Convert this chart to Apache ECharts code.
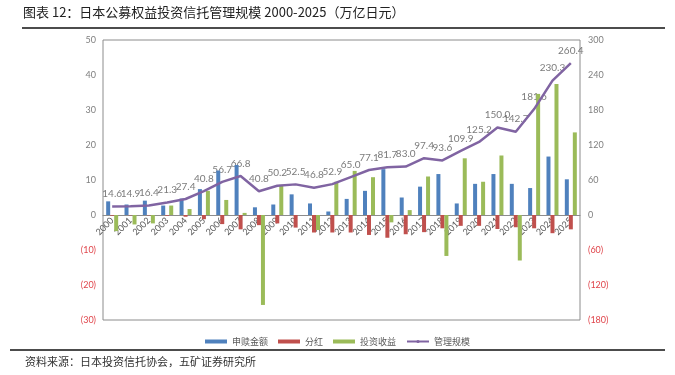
<!DOCTYPE html>
<html>
<head>
<meta charset="utf-8">
<script src="https://cdn.jsdelivr.net/npm/echarts@6/dist/echarts.min.js"></script>
<style>
  html, body { margin: 0; padding: 0; background: #fff; }
  #main { width: 675px; height: 375px; }
</style>
</head>
<body>
<div id="main"></div>
<script>
// 年份
var years = ['2000','2001','2002','2003','2004','2005','2006','2007','2008','2009','2010','2011','2012',
             '2013','2014','2015','2016','2017','2018','2019','2020','2021','2022','2023','2024','2025'];
// 申赎金额（左轴，万亿日元）
var flows = [3.9, 3.0, 4.1, 2.7, 4.7, 7.4, 12.7, 14.3, 2.2, 3.0, 5.9, 3.3, 1.0,
             4.6, 6.9, 13.1, 5.0, 8.1, 11.7, 3.3, 8.9, 11.7, 8.9, 7.7, 16.7, 10.2];
// 分红
var dividends = [-0.2, -0.1, -0.1, -0.2, -0.5, -1.2, -2.6, -4.1, -2.9, -2.4, -3.6, -5.0, -5.0,
                 -5.0, -5.7, -6.5, -5.5, -4.9, -3.8, -3.1, -3.1, -4.0, -3.5, -3.8, -5.2, -4.1];
// 投资收益
var returns = [-4.6, -2.7, -2.4, 2.7, 1.7, 6.9, 4.3, 0.6, -25.7, 8.6, 0, -4.3, 9.5,
               12.6, 10.8, -2.1, 1.4, 11.0, -11.7, 16.2, 9.5, 17.0, -13.0, 34.6, 37.4, 23.6];
// 管理规模（右轴）
var aum = [14.6, 14.9, 16.4, 21.3, 27.4, 40.8, 56.7, 66.8, 40.8, 50.2, 52.5, 46.8, 52.9,
           65.0, 77.1, 81.7, 83.0, 97.4, 93.6, 109.9, 125.2, 150.0, 142.7, 181.6, 230.3, 260.4];

// 坐标轴刻度
var leftAxis = { min: -30, max: 50, interval: 10 };
var rightAxis = { min: -180, max: 300, interval: 60 };

var numFont = 'Lato, "Liberation Sans", sans-serif';
var narrowFont = '"Liberation Sans Narrow", Lato, sans-serif';
var cjkFont = '"Noto Sans CJK SC", sans-serif';

function negFormat(v) {
  return v < 0 ? '{neg|(' + (-v) + ')}' : '{pos|' + v + '}';
}
var axisRich = {
  neg: { color: '#e0464c', fontSize: 9, fontFamily: numFont },
  pos: { color: '#7f7f7f', fontSize: 9, fontFamily: numFont }
};

var gridTop = 40, gridBottom = 55, plotH = 375 - gridTop - gridBottom;
// 横轴放在 0 处
var zeroOffset = -plotH * (0 - leftAxis.min) / (leftAxis.max - leftAxis.min);

var myChart = echarts.init(document.getElementById('main'));
myChart.setOption({
  animation: false,
  color: ['#4f81bd', '#c0504d', '#9bbb59', '#8064a2'],
  grid: {
    left: 103, right: 95, top: gridTop, bottom: gridBottom,
    show: true, borderColor: '#8c8c8c', borderWidth: 1
  },
  legend: {
    top: 332, left: 'center',
    itemWidth: 22, itemHeight: 4, itemGap: 10,
    textStyle: { fontSize: 9, color: '#595959', fontFamily: cjkFont },
    data: [
      { name: '申赎金额', icon: 'rect' },
      { name: '分红', icon: 'rect' },
      { name: '投资收益', icon: 'rect' },
      { name: '管理规模' }
    ]
  },
  xAxis: {
    type: 'category',
    data: years,
    position: 'bottom',
    offset: zeroOffset,
    axisLine: { onZero: false, lineStyle: { color: '#8c8c8c' } },
    axisTick: { show: false },
    axisLabel: { rotate: 45, interval: 0, fontSize: 9, color: '#595959', margin: 4, fontFamily: numFont }
  },
  yAxis: [
    {
      type: 'value', min: leftAxis.min, max: leftAxis.max, interval: leftAxis.interval,
      splitLine: { show: false },
      axisLine: { show: false }, axisTick: { show: false },
      axisLabel: { formatter: negFormat, rich: axisRich, margin: 7 }
    },
    {
      type: 'value', min: rightAxis.min, max: rightAxis.max, interval: rightAxis.interval,
      splitLine: { show: false },
      axisLine: { show: false }, axisTick: { show: false },
      axisLabel: { formatter: negFormat, rich: axisRich, margin: 8 }
    }
  ],
  series: [
    { name: '申赎金额', type: 'bar', data: flows, barWidth: 4, barGap: '0%' },
    { name: '分红', type: 'bar', data: dividends, barWidth: 4, barGap: '0%' },
    { name: '投资收益', type: 'bar', data: returns, barWidth: 4, barGap: '0%' },
    {
      name: '管理规模', type: 'line', yAxisIndex: 1, data: aum,
      symbol: 'none', lineStyle: { width: 2.5, color: '#8064a2' }, z: 3
    },
    {
      // 管理规模的数据标签
      name: '管理规模标签', type: 'scatter', yAxisIndex: 1, data: aum,
      symbolSize: 1, itemStyle: { color: 'rgba(0,0,0,0)' }, silent: true,
      label: {
        show: true, position: 'top', distance: 7,
        fontSize: 10, color: '#595959', fontFamily: narrowFont,
        formatter: function (p) { return Number(p.value).toFixed(1); }
      },
      z: 1
    }
  ],
  graphic: [
    { type: 'text', left: 23, top: 6,
      style: { text: '图表 12：日本公募权益投资信托管理规模 2000-2025（万亿日元）',
               font: '13px "Noto Sans CJK SC", sans-serif', fill: '#222' } },
    { type: 'line', shape: { x1: 22, y1: 28, x2: 665, y2: 28 },
      style: { stroke: '#111', lineWidth: 1.5 } },
    { type: 'line', shape: { x1: 10, y1: 350, x2: 665, y2: 350 },
      style: { stroke: '#111', lineWidth: 1.5 } },
    { type: 'text', left: 25, top: 356,
      style: { text: '资料来源：日本投资信托协会，五矿证券研究所',
               font: '11px "Noto Sans CJK SC", sans-serif', fill: '#333' } }
  ]
});
</script>
</body>
</html>
